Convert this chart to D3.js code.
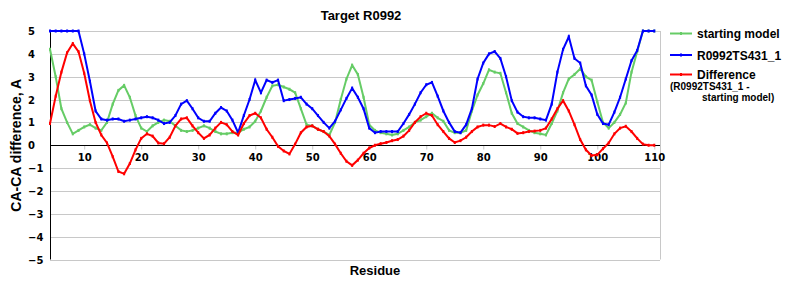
<!DOCTYPE html>
<html>
<head>
<meta charset="utf-8">
<script src="https://cdn.jsdelivr.net/npm/d3@7"></script>
<style>
  body { margin: 0; background: #fff; }
  text { font-family: "Liberation Sans", Arial, sans-serif; font-weight: bold; }
  .tick-lbl { font-family: "DejaVu Sans", Verdana, sans-serif; font-size: 10px; }
</style>
</head>
<body>
<div id="chart"></div>
<script>
/* CA-CA difference per residue, target R0992 */

const residues = d3.range(4, 111);

const startingModel = [4.2, 3.0, 1.6, 1.0, 0.5, 0.65, 0.8, 0.9, 0.75, 0.65,
  1.0, 1.8, 2.4, 2.62, 2.1, 1.3, 0.75, 0.6, 0.85, 1.0,
  1.1, 1.05, 0.85, 0.65, 0.6, 0.65, 0.75, 0.85, 0.75, 0.6,
  0.5, 0.5, 0.55, 0.55, 0.7, 0.8, 1.05, 1.5, 2.1, 2.6,
  2.65, 2.55, 2.45, 2.3, 1.6, 0.9, 0.85, 0.7, 0.6, 0.45,
  1.0, 2.0, 2.9, 3.5, 3.1, 2.1, 0.9, 0.65, 0.55, 0.5,
  0.45, 0.5, 0.65, 0.8, 1.0, 1.1, 1.25, 1.4, 1.2, 1.05,
  0.65, 0.55, 0.55, 0.65, 1.5, 2.2, 2.7, 3.3, 3.2, 3.15,
  2.3, 1.4, 0.95, 0.8, 0.65, 0.55, 0.5, 0.45, 0.95, 1.5,
  2.3, 2.9, 3.1, 3.35, 3.0, 2.85, 1.9, 1.0, 0.75, 1.0,
  1.35, 1.85, 3.2, 4.1, 5, 5, 5];

const model431 = [5, 5, 5, 5, 5, 5, 4.0, 2.8, 1.5, 1.15,
  1.1, 1.15, 1.15, 1.05, 1.1, 1.15, 1.2, 1.25, 1.2, 1.1,
  0.95, 1.0, 1.3, 1.8, 1.95, 1.6, 1.2, 1.05, 1.05, 1.4,
  1.65, 1.5, 1.1, 0.55, 1.3, 2.0, 2.85, 2.3, 2.85, 2.75,
  2.85, 1.95, 2.0, 2.05, 2.1, 1.8, 1.6, 1.3, 1.0, 0.75,
  1.05, 1.55, 2.05, 2.5, 2.1, 1.6, 0.75, 0.55, 0.6, 0.6,
  0.6, 0.6, 0.95, 1.35, 1.8, 2.3, 2.65, 2.75, 2.15, 1.5,
  1.0, 0.6, 0.55, 0.9, 1.6, 2.9, 3.6, 4.0, 4.1, 3.8,
  3.0, 1.95, 1.45, 1.25, 1.2, 1.2, 1.15, 1.1, 1.8, 3.2,
  4.2, 4.75, 3.8, 3.6, 2.6, 2.2, 1.35, 0.95, 0.9, 1.45,
  2.1, 2.9, 3.7, 4.15, 5, 5, 5];

const difference = [0.95, 2.15, 3.2, 4.05, 4.45, 4.1, 3.15, 1.95, 1.0, 0.45,
  0.1, -0.5, -1.15, -1.25, -0.8, -0.2, 0.3, 0.5, 0.4, 0.1,
  0.07, 0.35, 0.85, 1.15, 1.2, 0.85, 0.55, 0.3, 0.45, 0.75,
  1.0, 0.9, 0.6, 0.45, 0.95, 1.3, 1.4, 1.2, 0.7, 0.35,
  -0.05, -0.25, -0.38, 0.05, 0.55, 0.8, 0.85, 0.7, 0.6, 0.4,
  0.05, -0.35, -0.7, -0.88, -0.65, -0.35, -0.12, 0.0, 0.07, 0.12,
  0.2, 0.25, 0.4, 0.65, 1.0, 1.25, 1.4, 1.3, 0.9, 0.6,
  0.3, 0.12, 0.2, 0.35, 0.6, 0.8, 0.88, 0.88, 0.82, 0.95,
  0.8, 0.7, 0.52, 0.55, 0.6, 0.62, 0.65, 0.75, 1.15, 1.6,
  1.95, 1.5, 0.9, 0.25, -0.2, -0.45, -0.42, -0.15, 0.1, 0.5,
  0.75, 0.83, 0.6, 0.3, 0.05, 0.0, 0.0];

const seriesNames = ["starting model", "R0992TS431_1", "Difference"];
const seriesColors = ["#66cc66", "#0000ff", "#ff0000"];
const xTicks = [10, 20, 30, 40, 50, 60, 70, 80, 90, 100, 110];
const yTicks = [-5, -4, -3, -2, -1, 0, 1, 2, 3, 4, 5];

const width = 800,
      height = 300,
      margin = ({top: 31, right: 140, bottom: 41, left: 50});

let svg = d3.select("#chart")
            .append("svg")
            .attr("width", width)
            .attr("height", height);

let x = d3.scaleLinear()
          .domain([4, 111])
          .range([margin.left, width - margin.right]);

let y = d3.scaleLinear()
          .domain([-5, 5])
          .range([height - margin.bottom + 0.5, margin.top]);

/* gridlines */
svg.append("g")
   .selectAll("line")
   .data(yTicks.filter(d => d !== 0))
   .join("line")
   .attr("x1", margin.left)
   .attr("x2", width - margin.right)
   .attr("y1", d => Math.round(y(d)) + 0.5)
   .attr("y2", d => Math.round(y(d)) + 0.5)
   .attr("stroke", "#c8c8c8");

svg.append("line")
   .attr("x1", width - margin.right + 0.5)
   .attr("x2", width - margin.right + 0.5)
   .attr("y1", y(5))
   .attr("y2", y(-5))
   .attr("stroke", "#c8c8c8");

/* x axis sits on zero */
const xAxis = g => g
      .attr("transform", `translate(0, ${Math.round(y(0)) + 0.5})`)
      .call(d3.axisBottom(x).tickValues(xTicks).tickSize(4).tickSizeOuter(0).tickPadding(4))
      .call(g => g.select(".domain").remove())
      .call(g => g.selectAll(".tick line").attr("stroke", "#c8c8c8"))
      .call(g => g.selectAll(".tick text").attr("class", "tick-lbl").attr("fill", "#000"));

svg.append("g").call(xAxis);

svg.append("line")
   .attr("x1", margin.left)
   .attr("x2", width - margin.right)
   .attr("y1", Math.round(y(0)) + 0.5)
   .attr("y2", Math.round(y(0)) + 0.5)
   .attr("stroke", "#000");

svg.append("line")
   .attr("x1", margin.left + 0.5)
   .attr("x2", margin.left + 0.5)
   .attr("y1", y(5))
   .attr("y2", y(-5))
   .attr("stroke", "#000");

svg.append("g")
   .selectAll("text")
   .data(yTicks)
   .join("text")
   .attr("class", "tick-lbl")
   .attr("x", 28)
   .attr("y", d => y(d) + 4)
   .text(d => d < 0 ? "\u2212" + Math.abs(d) : d);

/* lines */
const series = [startingModel, model431, difference];
const line = d3.line()
               .x((d, i) => x(residues[i]))
               .y(d => y(d));

series.forEach((vals, k) => {
  svg.append("path")
     .datum(vals)
     .attr("fill", "none")
     .attr("stroke", seriesColors[k])
     .attr("stroke-width", 2)
     .attr("d", line);

  // tiny point markers
  svg.append("g")
     .selectAll("rect")
     .data(vals)
     .join("rect")
     .attr("x", (d, i) => x(residues[i]) - 1)
     .attr("y", d => y(d) - 1.5)
     .attr("width", 2)
     .attr("height", 3)
     .attr("fill", seriesColors[k]);
});

/* titles */
svg.append("text")
   .attr("x", 361)
   .attr("y", 20)
   .attr("text-anchor", "middle")
   .style("font-size", "13px")
   .text("Target R0992");

svg.append("text")
   .attr("x", 375)
   .attr("y", 275)
   .attr("text-anchor", "middle")
   .style("font-size", "13px")
   .text("Residue");

svg.append("text")
   .attr("transform", `translate(21, ${y(0)}) rotate(-90)`)
   .attr("text-anchor", "middle")
   .style("font-size", "14px")
   .text("CA-CA difference, A");

/* legend */
const legendY = [33.5, 55, 74.5];
let legend = svg.append("g");
seriesNames.forEach((name, k) => {
  legend.append("line")
        .attr("x1", 670).attr("x2", 692)
        .attr("y1", legendY[k]).attr("y2", legendY[k])
        .attr("stroke", seriesColors[k])
        .attr("stroke-width", 2);
  legend.append("rect")
        .attr("x", 680).attr("y", legendY[k] - 1.5)
        .attr("width", 2).attr("height", 3)
        .attr("fill", seriesColors[k]);
  legend.append("text")
        .attr("x", 697)
        .attr("y", legendY[k] + 4.5)
        .style("font-size", "12px")
        .text(name);
});
legend.append("text")
      .attr("x", 670).attr("y", 90)
      .style("font-size", "10px")
      .text("(R0992TS431_1 -");
legend.append("text")
      .attr("x", 702).attr("y", 101)
      .style("font-size", "10px")
      .text("starting model)");
</script>
</body>
</html>
